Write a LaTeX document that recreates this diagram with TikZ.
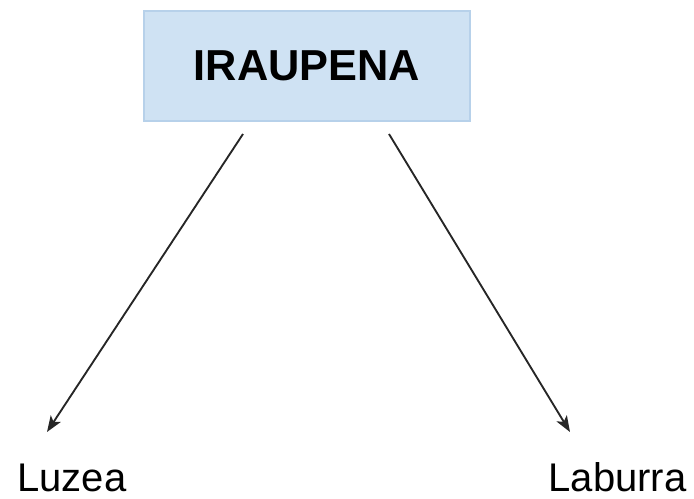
\documentclass[tikz,border=0pt]{standalone}
\usepackage{fontspec}
\setmainfont{Liberation Sans}
\usepackage{tikz}
\usetikzlibrary{arrows.meta}
\definecolor{boxfill}{HTML}{CFE2F3}
\definecolor{boxline}{HTML}{B7D1EA}

\begin{document}
\begin{tikzpicture}[%
    x=0.75pt,
    y=-0.75pt,
    >={Stealth[length=12pt,width=9pt,inset=3pt]},
    line width=1.4pt,
    topbox/.style={%
      rectangle,
      fill=boxfill,
      draw=boxline,
      line width=0.8pt,
      minimum width=244.5pt,
      minimum height=82.5pt,
      font=\fontsize{32.5}{38}\selectfont\bfseries
    },
    leaf/.style={%
      anchor=base,
      inner sep=0pt,
      font=\fontsize{30}{36}\selectfont
    }
  ]
    \useasboundingbox (0,0) rectangle (694,499);
    \node[topbox] (root) at (307,66)  {IRAUPENA};
    \node[leaf] (luzea) at (72,492)   {Luzea};
    \node[leaf] (laburra) at (617.5,492) {Laburra};

    \coordinate (lstart) at (243,134);
    \coordinate (rstart) at (389,134);
    \coordinate (lend) at (47,432);
    \coordinate (rend) at (570,432);

    \draw[->, black!85] (lstart) -- (lend);
    \draw[->, black!85] (rstart) -- (rend);
  \end{tikzpicture}
\end{document}
